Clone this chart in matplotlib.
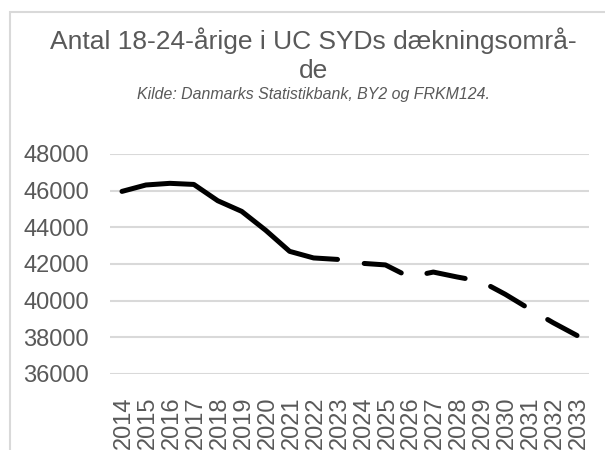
import matplotlib
matplotlib.use('Agg')
import matplotlib.pyplot as plt
import matplotlib.transforms as mtransforms
from matplotlib.patches import Rectangle

years = [str(y) for y in range(2014, 2034)]
hist_years = years[:10]
hist_vals = [45960, 46310, 46400, 46340, 45450, 44870, 43840, 42690, 42330, 42250]
proj_years = years[9:]
proj_vals = [42250, 42040, 41950, 41290, 41560, 41290, 41050, 40350, 39560, 38800, 38100]
yticks = [36000, 38000, 40000, 42000, 44000, 46000, 48000]

plt.rcParams['font.family'] = ['Liberation Sans', 'DejaVu Sans']
grey = '#595959'

fig = plt.figure(figsize=(6.05, 4.5), dpi=100)
# chart border (runs off the right and bottom of the image)
fig.patches.append(Rectangle((9.5 / 605, -0.1), 1.2, 1 - 12 / 450 + 0.1, transform=fig.transFigure,
                             fill=False, edgecolor='#d9d9d9', linewidth=1.5))

ax = fig.add_axes([110 / 605, 1 - 374 / 450, 479 / 605, 220 / 450])
ax.plot(hist_years, hist_vals, color='black', linewidth=3.6, solid_capstyle='round',
        solid_joinstyle='round', zorder=3)
ax.plot(proj_years, proj_vals, color='black', linewidth=3.6,
        linestyle=(7.8, (7.8, 5.4)), dash_capstyle='round', dash_joinstyle='round', zorder=3)

ax.set_xlim(-0.5, 19.5)
ax.set_ylim(36000, 48000)
ax.set_yticks(yticks)
ax.set_yticklabels([str(v) for v in yticks])
ax.grid(axis='y', color='#d9d9d9', linewidth=1.5)
ax.set_axisbelow(True)
for s in ax.spines.values():
    s.set_visible(False)
ax.tick_params(axis='both', length=0, colors=grey, labelsize=17)
ax.tick_params(axis='y', pad=15)
ax.tick_params(axis='x', rotation=90, pad=16)
shift = mtransforms.ScaledTranslation(2 / 100, 0, fig.dpi_scale_trans)
for lab in ax.get_xticklabels():
    lab.set_transform(lab.get_transform() + shift)

cx = 313 / 605
fig.text(cx, 1 - 49.5 / 450, 'Antal 18-24-årige i UC SYDs dækningsområ-', ha='center', va='baseline',
         fontsize=19, color=grey)
fig.text(cx, 1 - 78.5 / 450, 'de', ha='center', va='baseline', fontsize=19, color=grey)
fig.text(cx, 1 - 99 / 450, 'Kilde: Danmarks Statistikbank, BY2 og FRKM124.', ha='center', va='baseline',
         fontsize=11.4, color=grey, style='italic')

fig.savefig('out.png', dpi=100)
